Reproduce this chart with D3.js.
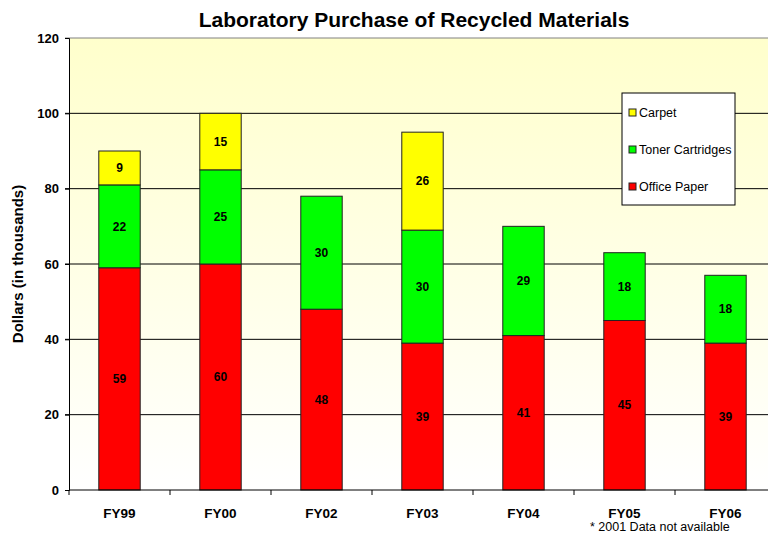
<!DOCTYPE html>
<html>
<head>
<meta charset="utf-8">
<script src="https://cdn.jsdelivr.net/npm/d3@7"></script>
<style>
  body { margin: 0; background: #fff; }
  text { font-family: "Liberation Sans", Arial, sans-serif; }
</style>
</head>
<body>
<svg id="chart" width="768" height="533"></svg>
<script>
// chart data
const years = ["FY99", "FY00", "FY02", "FY03", "FY04", "FY05", "FY06"];
const officePaper = [59, 60, 48, 39, 41, 45, 39];
const tonerCartridges = [22, 25, 30, 30, 29, 18, 18];
const carpet = [9, 15, 0, 26, 0, 0, 0];
const seriesNames = ["Office Paper", "Toner Cartridges", "Carpet"];
const seriesColors = ["#ff0000", "#00ff00", "#ffff00"];
const yTicks = [0, 20, 40, 60, 80, 100, 120];

const svg = d3.select("#chart");
const margin = { left: 69, top: 38, right: -8, bottom: 43 };
const width = 768 - margin.left - margin.right;
const height = 533 - margin.top - margin.bottom;

// background gradient
const defs = svg.append("defs");
const grad = defs.append("linearGradient").attr("id", "bg")
    .attr("x1", 0).attr("y1", 0).attr("x2", 0).attr("y2", 1);
grad.append("stop").attr("offset", "0%").attr("stop-color", "#ffffcc");
grad.append("stop").attr("offset", "100%").attr("stop-color", "#ffffff");

const g = svg.append("g").attr("transform", `translate(${margin.left},${margin.top})`);

g.append("rect")
    .attr("width", width).attr("height", height)
    .style("fill", "url(#bg)");

const x = d3.scaleBand().domain(years).range([0, width]).paddingInner(0.59).paddingOuter(0.295);
const y = d3.scaleLinear().domain([0, 120]).range([height, 0]);

// grid lines
g.selectAll(".grid")
    .data(yTicks.filter(d => d > 0))
    .enter()
    .append("line")
    .attr("class", "grid")
    .attr("x1", -4).attr("x2", width)
    .attr("y1", d => y(d)).attr("y2", d => y(d))
    .style("stroke", d => d === 120 ? "#808080" : "#000")
    .style("stroke-width", 1);

// stack data
const table = years.map((yr, i) => ({
    year: yr,
    "Office Paper": officePaper[i],
    "Toner Cartridges": tonerCartridges[i],
    "Carpet": carpet[i]
}));
const stacked = d3.stack().keys(seriesNames)(table);

const layers = g.selectAll(".layer")
    .data(stacked)
    .enter()
    .append("g")
    .attr("class", "layer")
    .style("fill", (d, i) => seriesColors[i]);

layers.selectAll("rect")
    .data(d => d.filter(p => p[1] - p[0] > 0))
    .enter()
    .append("rect")
    .attr("x", d => x(d.data.year))
    .attr("y", d => y(d[1]))
    .attr("width", x.bandwidth())
    .attr("height", d => y(d[0]) - y(d[1]))
    .style("stroke", "#222")
    .style("stroke-width", 1);

layers.selectAll(".val")
    .data(d => d.filter(p => p[1] - p[0] > 0))
    .enter()
    .append("text")
    .attr("class", "val")
    .attr("x", d => x(d.data.year) + x.bandwidth() / 2)
    .attr("y", d => (y(d[0]) + y(d[1])) / 2)
    .attr("dy", "0.35em")
    .attr("text-anchor", "middle")
    .style("fill", "#000")
    .style("font-size", "12px")
    .style("font-weight", "bold")
    .text(d => d[1] - d[0]);

// y axis
const yAxis = g.append("g")
    .call(d3.axisLeft(y).tickValues(yTicks).tickSize(4).tickPadding(6));
yAxis.select(".domain").style("stroke", "#000");
yAxis.selectAll("text").style("font-size", "13px").style("font-weight", "bold").style("fill", "#000")
    .style("font-family", "'Liberation Sans', Arial, sans-serif");

// x axis with ticks between categories
const xAxisG = g.append("g").attr("transform", `translate(0,${height})`);
xAxisG.append("line").attr("x1", 0).attr("x2", width).style("stroke", "#000");
const step = x.step();
xAxisG.selectAll(".xt")
    .data(d3.range(years.length + 1))
    .enter()
    .append("line")
    .attr("x1", d => d * step).attr("x2", d => d * step)
    .attr("y1", 0).attr("y2", 5)
    .style("stroke", "#000");
xAxisG.selectAll(".xl")
    .data(years)
    .enter()
    .append("text")
    .attr("x", d => x(d) + x.bandwidth() / 2)
    .attr("y", 28)
    .attr("text-anchor", "middle")
    .style("font-size", "13.5px")
    .style("font-weight", "bold")
    .text(d => d);

// title
svg.append("text")
    .attr("x", 414).attr("y", 27)
    .attr("text-anchor", "middle")
    .style("font-size", "21px")
    .style("font-weight", "bold")
    .text("Laboratory Purchase of Recycled Materials");

// y label
svg.append("text")
    .attr("transform", "translate(23,264) rotate(-90)")
    .attr("text-anchor", "middle")
    .style("font-size", "15px")
    .style("font-weight", "bold")
    .text("Dollars (in thousands)");

// footnote
svg.append("text")
    .attr("x", 590).attr("y", 531)
    .style("font-size", "12.5px")
    .text("* 2001 Data not available");

// legend
const legend = svg.append("g").attr("transform", "translate(622,93)");
legend.append("rect")
    .attr("width", 113).attr("height", 112)
    .style("fill", "#fff").style("stroke", "#000").style("stroke-width", 1);
const legendItems = seriesNames.slice().reverse();
const legendColors = seriesColors.slice().reverse();
legendItems.forEach((name, i) => {
    const row = legend.append("g").attr("transform", `translate(7,${20 + i * 37})`);
    row.append("rect")
        .attr("x", 0).attr("y", -4).attr("width", 7).attr("height", 7)
        .style("fill", legendColors[i]).style("stroke", "#222");
    row.append("text")
        .attr("x", 10).attr("y", 0).attr("dy", "0.35em")
        .style("font-size", "12.5px")
        .text(name);
});
</script>
</body>
</html>
